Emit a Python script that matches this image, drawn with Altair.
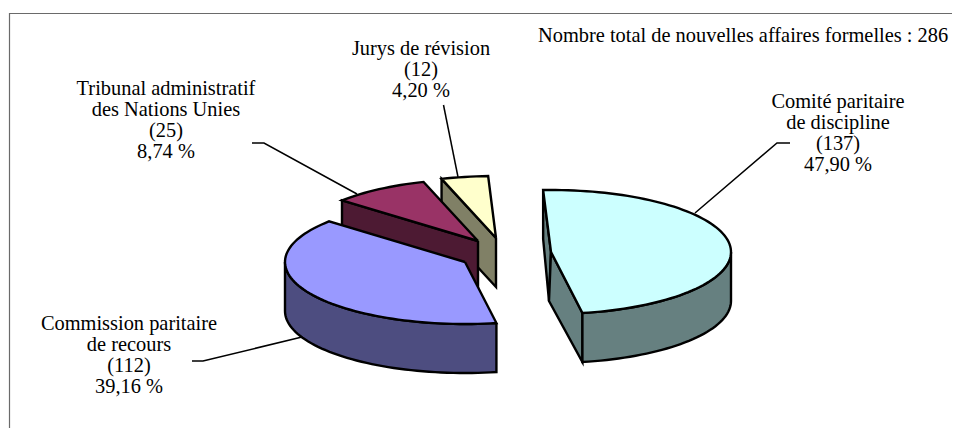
import math
import altair as alt
import pandas as pd

categories = ["Comité paritaire de discipline", "Commission paritaire de recours",
              "Tribunal administratif des Nations Unies", "Jurys de révision"]
counts = [137, 112, 25, 12]
percent_labels = ["47,90 %", "39,16 %", "8,74 %", "4,20 %"]
total_note = "Nombre total de nouvelles affaires formelles : 286"

top_colors = ["#CCFFFF", "#9999FF", "#993366", "#FFFFCC"]
side_colors = ["#668080", "#4D4D80", "#4D1A33", "#808066"]
centres = [(551, 252), (465, 262), (478, 241), (496, 238)]
RX, RY, DEPTH, START = 180, 62, 49, -2.5

label_lines = [
    ["Comité paritaire", "de discipline", "(137)", "47,90 %"],
    ["Commission paritaire", "de recours", "(112)", "39,16 %"],
    ["Tribunal administratif", "des Nations Unies", "(25)", "8,74 %"],
    ["Jurys de révision", "(12)", "4,20 %"],
]
label_x = [838, 129, 166, 421]
label_y = [108, 330, 95, 55]
LINE_H = 21

leaders = [
    [(790, 143), (777, 143), (695, 213)],
    [(192, 361), (203, 361), (302, 337)],
    [(252, 143), (264, 143), (357, 194)],
    [(443.5, 105), (458, 177)],
]

total = sum(counts)
spans = []
a = START
for c in counts:
    spans.append((a, a + c / total * 360))
    a += c / total * 360


def rim(k, a0, a1, dz=0):
    cx, cy = centres[k]
    n = max(2, int(abs(a1 - a0) / 2) + 1)
    out = []
    for i in range(n + 1):
        t = math.radians(a0 + (a1 - a0) * i / n)
        out.append((cx + RX * math.sin(t), cy - RY * math.cos(t) + dz))
    return out


def quad(k, ang, dx=0):
    cx, cy = centres[k]
    p = rim(k, ang, ang)[0]
    return [(cx, cy), p, (p[0], p[1] + DEPTH), (cx + dx, cy + DEPTH), (cx, cy)]


faces = []


def add(pts, color):
    faces.append((pts, color))


def top(k):
    a0, a1 = spans[k]
    cx, cy = centres[k]
    return [(cx, cy)] + rim(k, a0, a1) + [(cx, cy)]


def side(k, a0, a1):
    up = rim(k, a0, a1)
    down = rim(k, a1, a0, DEPTH)
    return up + down + [up[0]]


# painter's order, back to front
add(quad(3, spans[3][0]), side_colors[3])
add(top(3), top_colors[3])
add(quad(2, spans[2][0]), side_colors[2])
add(top(2), top_colors[2])
add(quad(0, spans[0][0], -2), side_colors[0])
add(quad(0, spans[0][1], -2), side_colors[0])
add(side(0, 90, spans[0][1]), side_colors[0])
add(top(0), top_colors[0])
add(side(1, spans[1][0], 270), side_colors[1])
add(top(1), top_colors[1])

rows = []
for f, (pts, col) in enumerate(faces):
    for i, (x, y) in enumerate(pts):
        rows.append({"face": f"f{f:02d}", "i": i, "x": x, "y": y, "c": col})
df_faces = pd.DataFrame(rows)

WIDTH, HEIGHT = 944, 420
xs = alt.Scale(domain=[8, 8 + WIDTH], range=[0, WIDTH])
ys = alt.Scale(domain=[8, 8 + HEIGHT], range=[0, HEIGHT])
X = alt.X("x:Q", scale=xs, axis=None)
Y = alt.Y("y:Q", scale=ys, axis=None)

frame = alt.Chart(pd.DataFrame({"x": [9.5, 9.5, 952], "y": [428, 13.5, 13.5], "i": [0, 1, 2]})).mark_line(
    stroke="#6a6a6a", strokeWidth=1.2, clip=False
).encode(x=X, y=Y, order="i:Q")

lrows = []
for k, pts in enumerate(leaders):
    for i, (x, y) in enumerate(pts):
        lrows.append({"k": k, "i": i, "x": x, "y": y})
leader_chart = alt.Chart(pd.DataFrame(lrows)).mark_line(stroke="#000000", strokeWidth=1.5).encode(
    x=X, y=Y, detail="k:N", order="i:Q"
)

face_layers = []
for f, (pts, col) in enumerate(faces):
    d = df_faces[df_faces.face == f"f{f:02d}"]
    face_layers.append(
        alt.Chart(d).mark_line(
            filled=True, fill=col, stroke="#000000", strokeWidth=2.4, strokeJoin="miter", strokeMiterLimit=5
        ).encode(x=X, y=Y, order="i:Q")
    )

trows = []
for k, lines in enumerate(label_lines):
    for j, t in enumerate(lines):
        trows.append({"x": label_x[k], "y": label_y[k] + j * LINE_H, "t": t})
labels = alt.Chart(pd.DataFrame(trows)).mark_text(
    font="Liberation Serif", fontSize=20.4, align="center", baseline="alphabetic", color="#000000"
).encode(x=X, y=Y, text="t:N")
note = alt.Chart(pd.DataFrame({"x": [538], "y": [42], "t": [total_note]})).mark_text(
    font="Liberation Serif", fontSize=20.4, align="left", baseline="alphabetic", color="#000000"
).encode(x=X, y=Y, text="t:N")

chart = alt.layer(frame, leader_chart, *face_layers, labels, note).properties(
    width=WIDTH, height=HEIGHT, padding=0, background="white",
    autosize=alt.AutoSizeParams(type="none")
).configure_view(stroke=None)

chart.save("out.html", embed_options={"renderer": "svg", "actions": False})
